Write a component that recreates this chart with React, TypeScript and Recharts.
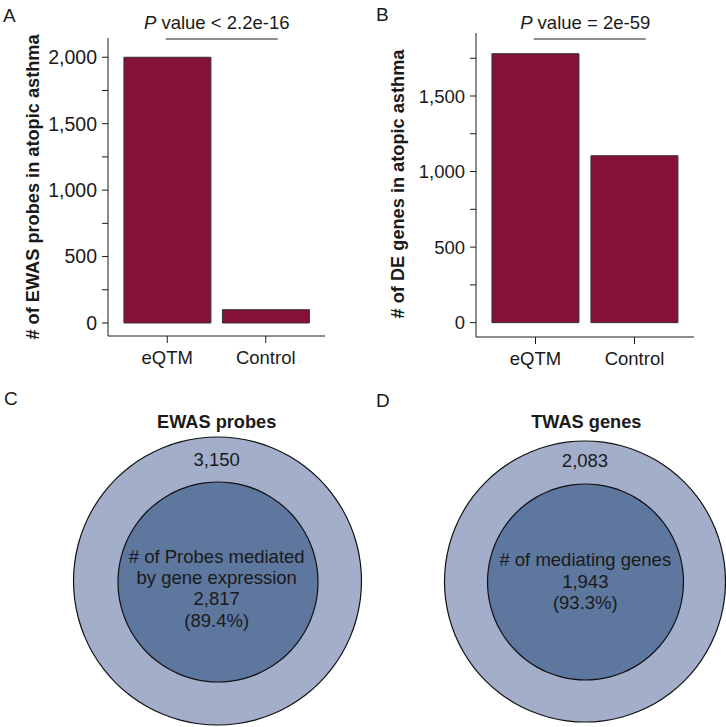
import React from 'react';
import { BarChart, Bar, XAxis, YAxis, PieChart, Pie } from 'recharts';

const categories = ['eQTM', 'Control'];
const ewasProbeCounts = [2000, 100];
const deGeneCounts = [1780, 1105];
const yTicksA = [0, 250, 500, 750, 1000, 1250, 1500, 1750, 2000];
const yTicksB = [0, 250, 500, 750, 1000, 1250, 1500, 1750];
const ewasProbeSets = [3150, 2817];
const ewasProbePct = '89.4%';
const twasGeneSets = [2083, 1943];
const twasGenePct = '93.3%';

const FONT = '"Liberation Sans", Arial, Helvetica, sans-serif';
const INK = '#1a1a1a';
const BAR_FILL = '#861039';
const OUTER_FILL = '#A3AECB';
const INNER_FILL = '#5E779F';

const fmt = (v: number) => (v % 500 === 0 ? v.toLocaleString('en-US') : '');

const dataA = categories.map((c, i) => ({ category: c, value: ewasProbeCounts[i] }));
const dataB = categories.map((c, i) => ({ category: c, value: deGeneCounts[i] }));

const axisLine = { stroke: INK, strokeWidth: 1 };

function BarPanel(props: {
  data: { category: string; value: number }[];
  ticks: number[];
  domain: [number, number];
  yWidth: number;
  top: number;
  right: number;
  xHeight: number;
  yFont: number;
}) {
  const { data, ticks, domain, yWidth, top, right, xHeight, yFont } = props;
  return (
    <BarChart
      width={363}
      height={370}
      data={data}
      margin={{ top, right, bottom: 0, left: 0 }}
      barCategoryGap="6%"
    >
      <XAxis
        dataKey="category"
        height={xHeight}
        padding={{ left: 10, right: 10 }}
        tick={{ fontSize: 18.5, fill: INK, fontFamily: FONT }}
        tickSize={7}
        tickMargin={8}
        axisLine={axisLine}
        tickLine={axisLine}
        interval={0}
      />
      <YAxis
        type="number"
        width={yWidth}
        domain={domain}
        allowDataOverflow
        ticks={ticks}
        interval={0}
        tickFormatter={fmt}
        tick={{ fontSize: yFont, fill: INK, fontFamily: FONT }}
        tickSize={6}
        tickMargin={5}
        axisLine={axisLine}
        tickLine={axisLine}
      />
      <Bar dataKey="value" fill={BAR_FILL} stroke="#333" strokeWidth={1} isAnimationActive={false} />
    </BarChart>
  );
}

function CirclePanel(props: {
  sets: number[];
  outer: { cx: number; cy: number; r: number };
  inner: { cx: number; cy: number; r: number };
}) {
  const { sets, outer, inner } = props;
  const outerData = [{ name: 'all', value: sets[0] }];
  const innerData = [{ name: 'mediated', value: sets[1] }];
  return (
    <PieChart width={363} height={357} margin={{ top: 0, right: 0, bottom: 0, left: 0 }}>
      <Pie data={outerData} dataKey="value" cx={outer.cx} cy={outer.cy} innerRadius={0} outerRadius={outer.r}
        startAngle={90} endAngle={-270} fill={OUTER_FILL} stroke="none" isAnimationActive={false} />
      <Pie data={outerData} dataKey="value" cx={outer.cx} cy={outer.cy} innerRadius={outer.r - 0.6} outerRadius={outer.r + 0.6}
        startAngle={90} endAngle={-270} fill="#111" stroke="none" isAnimationActive={false} />
      <Pie data={innerData} dataKey="value" cx={inner.cx} cy={inner.cy} innerRadius={0} outerRadius={inner.r}
        startAngle={90} endAngle={-270} fill={INNER_FILL} stroke="none" isAnimationActive={false} />
      <Pie data={innerData} dataKey="value" cx={inner.cx} cy={inner.cy} innerRadius={inner.r - 0.6} outerRadius={inner.r + 0.6}
        startAngle={90} endAngle={-270} fill="#111" stroke="none" isAnimationActive={false} />
    </PieChart>
  );
}

export default function App() {
  const t = { fontFamily: FONT, fill: INK, fontSize: 18.5 } as const;
  const b = { fontFamily: FONT, fill: INK, fontSize: 18.2, fontWeight: 700 } as const;
  return (
    <div style={{ position: 'absolute', left: 0, top: 0, width: 726, height: 727, background: '#fff', fontFamily: FONT }}>
      <div style={{ position: 'absolute', left: 0, top: 0 }}>
        <BarPanel data={dataA} ticks={yTicksA} domain={[-98, 2145]} yWidth={108} top={38} right={38} xHeight={34} yFont={19.5} />
      </div>
      <div style={{ position: 'absolute', left: 363, top: 0 }}>
        <BarPanel data={dataB} ticks={yTicksB} domain={[-95, 1917]} yWidth={113} top={33} right={32} xHeight={33} yFont={18.5} />
      </div>
      <div style={{ position: 'absolute', left: 0, top: 370 }}>
        <CirclePanel sets={ewasProbeSets} outer={{ cx: 217.5, cy: 211, r: 144 }} inner={{ cx: 218, cy: 212, r: 100 }} />
      </div>
      <div style={{ position: 'absolute', left: 363, top: 370 }}>
        <CirclePanel sets={twasGeneSets} outer={{ cx: 222, cy: 211.5, r: 140.5 }} inner={{ cx: 222.5, cy: 212, r: 98 }} />
      </div>
      <svg width={726} height={727} style={{ position: 'absolute', left: 0, top: 0, pointerEvents: 'none' }}>
        {/* panel letters */}
        <text x={3} y={21.7} {...t} fontSize={19}>A</text>
        <text x={376} y={20.7} {...t} fontSize={19}>B</text>
        <text x={4} y={405} {...t} fontSize={19}>C</text>
        <text x={376} y={406.5} {...t} fontSize={19}>D</text>

        {/* y-axis titles */}
        <text x={39} y={187} transform="rotate(-90 39 187)" textAnchor="middle" {...b}>
          # of EWAS probes in atopic asthma
        </text>
        <text x={404} y={184} transform="rotate(-90 404 184)" textAnchor="middle" {...b}>
          # of DE genes in atopic asthma
        </text>

        {/* p-values */}
        <text x={216.7} y={29} textAnchor="middle" {...t}>
          <tspan fontStyle="italic">P</tspan> value &lt; 2.2e-16
        </text>
        <line x1={165.7} x2={277.7} y1={39} y2={39} stroke={INK} strokeWidth={1} />
        <text x={585.2} y={29} textAnchor="middle" {...t}>
          <tspan fontStyle="italic">P</tspan> value = 2e-59
        </text>
        <line x1={533.7} x2={645.7} y1={39} y2={39} stroke={INK} strokeWidth={1} />

        {/* panel C text */}
        <text x={216.7} y={428.3} textAnchor="middle" {...b}>EWAS probes</text>
        <text x={216.7} y={466} textAnchor="middle" {...t}>{ewasProbeSets[0].toLocaleString('en-US')}</text>
        <text x={216.7} y={562.5} textAnchor="middle" {...t}># of Probes mediated</text>
        <text x={216.7} y={584} textAnchor="middle" {...t}>by gene expression</text>
        <text x={216.7} y={605} textAnchor="middle" {...t}>{ewasProbeSets[1].toLocaleString('en-US')}</text>
        <text x={216.7} y={626.5} textAnchor="middle" {...t}>({ewasProbePct})</text>

        {/* panel D text */}
        <text x={586.3} y={427.5} textAnchor="middle" {...b}>TWAS genes</text>
        <text x={585} y={466.5} textAnchor="middle" {...t}>{twasGeneSets[0].toLocaleString('en-US')}</text>
        <text x={585.3} y={566} textAnchor="middle" {...t}># of mediating genes</text>
        <text x={585.3} y={588} textAnchor="middle" {...t}>{twasGeneSets[1].toLocaleString('en-US')}</text>
        <text x={585.3} y={608.5} textAnchor="middle" {...t}>({twasGenePct})</text>
      </svg>
    </div>
  );
}
